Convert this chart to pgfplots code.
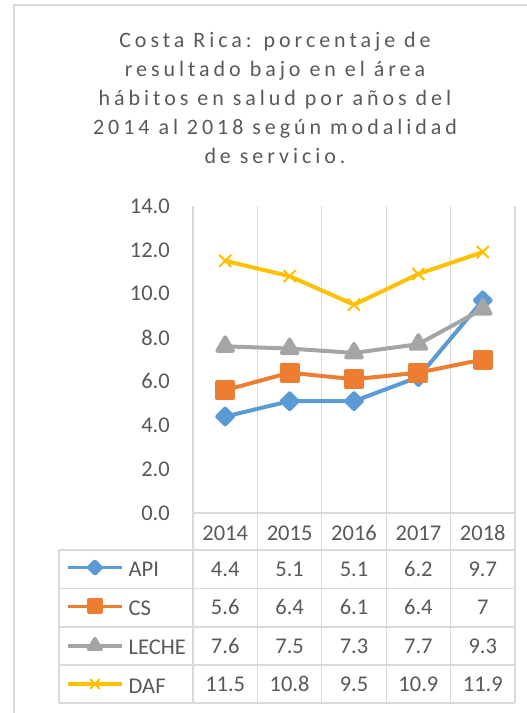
\documentclass[border=0pt]{standalone}
\usepackage{pgfplots}
\pgfplotsset{compat=1.18}
\usepackage{fontspec}
\setmainfont{Carlito}
\newfontfamily\titlefont[LetterSpace=18]{Carlito}
\definecolor{txt}{HTML}{595959}
\definecolor{gridc}{HTML}{D9D9D9}
\definecolor{api}{HTML}{5B9BD5}
\definecolor{cs}{HTML}{ED7D31}
\definecolor{leche}{HTML}{A5A5A5}
\definecolor{daf}{HTML}{FFC000}
\newcommand\lblfont{\fontsize{22.5}{27}\selectfont}
\begin{document}
\begin{tikzpicture}[x=1pt,y=1pt]
\path[use as bounding box] (0,0) rectangle (527,-713);
\draw[gridc, line width=2pt] (14,-713) -- (14,-5) -- (527,-5);
% title
\begin{scope}[every node/.style={anchor=base, text=txt, font=\titlefont\fontsize{22}{29}\selectfont, inner sep=0pt}]
\node at (275,-47.5) {Costa Rica: porcentaje de};
\node at (275,-76.5) {resultado bajo en el área};
\node at (275,-105.5) {hábitos en salud por años del};
\node at (275,-134.5) {2014 al 2018 según modalidad};
\node at (275,-163.5) {de servicio.};
\end{scope}
\begin{axis}[
  at={(193pt,-513pt)}, anchor=south west,
  scale only axis, width=322pt, height=307pt,
  xmin=0.5, xmax=5.5, ymin=0, ymax=14,
  axis line style={draw=none},
  tick style={draw=none},
  xtick={1,2,3,4,5}, xticklabels={2014,2015,2016,2017,2018},
  extra x ticks={0.5,1.5,2.5,3.5,4.5,5.5}, extra x tick labels={},
  extra x tick style={xmajorgrids=true},
  major grid style={gridc, line width=1.2pt},
  ytick={0,2,...,14},
  yticklabel style={font=\lblfont, text=txt, inner sep=0pt, xshift=-23pt,
    /pgf/number format/.cd, fixed, fixed zerofill, precision=1, assume math mode=true},
  xticklabel style={font=\lblfont, text=txt, anchor=base, yshift=-27pt},
  legend style={at={(axis description cs:-0.3944,-0.1564)}, anchor=north west,
    draw=none, fill=none, inner sep=0pt, row sep=14.3pt, column sep=5pt,
    nodes={inner sep=0pt, text height=15pt, text depth=9pt, font=\lblfont, text=txt}},
  legend cell align=left,
  legend image code/.code={\draw[mark repeat=2, mark phase=2, line width=3.5pt, yshift=6pt, #1, every mark/.append style={scale=0.8}] plot coordinates {(0pt,0pt) (27pt,0pt) (54pt,0pt)};},
]
\addplot[api, line width=4pt, line join=round, mark=square*, mark size=5.6pt, mark options={rotate=45, solid}]
  coordinates {(1,4.4) (2,5.1) (3,5.1) (4,6.2) (5,9.7)};
\addlegendentry{API}
\addplot[cs, line width=4pt, line join=round, mark=square*, mark size=8pt, mark options={solid}]
  coordinates {(1,5.6) (2,6.4) (3,6.1) (4,6.4) (5,7)};
\addlegendentry{CS}
\addplot[leche, line width=4pt, line join=round, mark=triangle*, mark size=9pt, mark options={solid}]
  coordinates {(1,7.6) (2,7.5) (3,7.3) (4,7.7) (5,9.3)};
\addlegendentry{LECHE}
\addplot[daf, line width=4pt, line join=round, mark=x, mark size=8.5pt, mark options={solid, line width=2pt}]
  coordinates {(1,11.5) (2,10.8) (3,9.5) (4,10.9) (5,11.9)};
\addlegendentry{DAF}
\end{axis}
% data table grid
\begin{scope}[gridc, line width=1.2pt]
\draw (193,-513) -- (515,-513);
\foreach \y in {550,588.5,627,665,703} \draw (59,-\y) -- (515,-\y);
\foreach \x in {193,257.4,321.8,386.2,450.6,515} \draw (\x,-513) -- (\x,-703);
\draw (59,-550) -- (59,-703);
\end{scope}
\begin{scope}[every node/.style={anchor=base, text=txt, font=\lblfont, inner sep=0pt}]
\foreach \v [count=\i from 0] in {4.4,5.1,5.1,6.2,9.7} \node at (225.2+64.4*\i,-576) {\v};
\foreach \v [count=\i from 0] in {5.6,6.4,6.1,6.4,7} \node at (225.2+64.4*\i,-614.5) {\v};
\foreach \v [count=\i from 0] in {7.6,7.5,7.3,7.7,9.3} \node at (225.2+64.4*\i,-653) {\v};
\foreach \v [count=\i from 0] in {11.5,10.8,9.5,10.9,11.9} \node at (225.2+64.4*\i,-691) {\v};
\end{scope}
\end{tikzpicture}
\end{document}
